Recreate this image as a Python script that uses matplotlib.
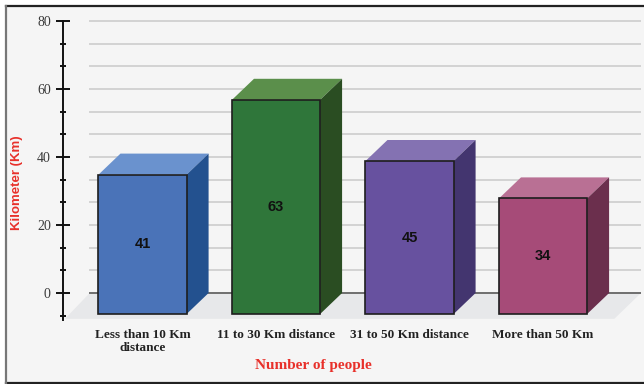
import matplotlib
matplotlib.use("Agg")
import matplotlib.pyplot as plt
from matplotlib.patches import Polygon, Rectangle
from matplotlib.lines import Line2D
from matplotlib.ticker import MultipleLocator

# data
categories = ["Less than 10 Km\ndistance", "11 to 30 Km distance", "31 to 50 Km distance", "More than 50 Km"]
values = [41, 63, 45, 34]
front_colors = ["#4A73B8", "#2F763A", "#67519F", "#A64B78"]
top_colors = ["#6A92CE", "#5B8F4B", "#8472B2", "#B97094"]
side_colors = ["#23518F", "#2A4D22", "#43356F", "#6B2F4D"]

# 3d look (data units)
BAR_W = 0.66
DX, DY = 0.165, 6.2
FLOOR_DX, FLOOR_DY = 0.2, 7.6
XMIN, XMAX = -0.5955, 3.734
YMIN, YMAX = -8, 82

fig = plt.figure(figsize=(6.44, 3.84), dpi=100)
fig.patch.set_facecolor("white")

# panel background + frame
fig.patches.append(Rectangle((6 / 644, 1 / 384), 1, 377 / 384, transform=fig.transFigure,
                             facecolor="#F5F5F5", edgecolor="none", zorder=-10))
fig.lines.append(Line2D([6 / 644, 1], [378 / 384, 378 / 384], transform=fig.transFigure,
                        color="#222222", lw=1.6, zorder=-5))
fig.lines.append(Line2D([6 / 644, 1], [1.2 / 384, 1.2 / 384], transform=fig.transFigure,
                        color="#222222", lw=1.6, zorder=-5))
fig.lines.append(Line2D([6 / 644, 6 / 644], [1 / 384, 378 / 384], transform=fig.transFigure,
                        color="#777777", lw=1.6, zorder=-5))

ax = fig.add_axes([63 / 644, 0.16615, 578 / 644, 0.796875])
ax.set_facecolor("none")
ax.set_xlim(XMIN, XMAX)
ax.set_ylim(YMIN, YMAX)

# floor
gx0 = XMIN + FLOOR_DX
ax.add_patch(Polygon([(XMIN + 0.015, -FLOOR_DY), (XMAX - FLOOR_DX, -FLOOR_DY), (XMAX, 0), (gx0, 0)],
                     closed=True, facecolor="#E7E8EA", edgecolor="none", zorder=1))

# gridlines on back wall
for gy in [i * 20 / 3 for i in range(1, 13)]:
    ax.plot([gx0, XMAX], [gy, gy], color="#D3D3D3", lw=1.4, zorder=1.5)
ax.plot([gx0, XMAX], [0, 0], color="#6E6E6E", lw=1.4, zorder=1.6)

# bars
for i, (v, fc, tc, sc) in enumerate(zip(values, front_colors, top_colors, side_colors)):
    x0, x1 = i - BAR_W / 2, i + BAR_W / 2
    ax.add_patch(Polygon([(x0, v - DY), (x1, v - DY), (x1 + DX, v), (x0 + DX, v)],
                         closed=True, facecolor=tc, edgecolor="none", zorder=3))
    ax.add_patch(Polygon([(x1, -DY), (x1 + DX, 0), (x1 + DX, v), (x1, v - DY)],
                         closed=True, facecolor=sc, edgecolor="none", zorder=3))
    ax.add_patch(Rectangle((x0, -DY), BAR_W, v, facecolor=fc, edgecolor="#1E1E1E", lw=1.2, zorder=4))
    ax.text(i, v / 2 - DY, str(v), ha="center", va="center", fontsize=10.5, fontweight="bold",
            family="Liberation Sans", color="#111111", zorder=5)

# axes
for s in ["top", "right", "bottom"]:
    ax.spines[s].set_visible(False)
ax.spines["left"].set_bounds(-8, 80)
ax.spines["left"].set_color("#111111")
ax.spines["left"].set_linewidth(1.4)

ax.set_yticks([0, 20, 40, 60, 80])
ax.yaxis.set_minor_locator(MultipleLocator(20 / 3))
ax.tick_params(axis="y", which="major", direction="inout", length=9.5, width=1.4, color="#111111",
               labelsize=10, labelcolor="#3A3A3A", pad=4)
ax.tick_params(axis="y", which="minor", direction="inout", length=4.5, width=1.4, color="#111111")
for lab in ax.get_yticklabels():
    lab.set_family("Liberation Serif")

ax.set_xticks(range(len(categories)))
ax.set_xticklabels(categories, family="Liberation Serif", fontweight="bold", fontsize=9.5, color="#222222")
ax.tick_params(axis="x", length=0, pad=6)

fig.text(313 / 644, (384 - 365) / 384, "Number of people", ha="center", va="center",
         family="Liberation Serif", fontweight="bold", fontsize=11, color="#E8302A")
fig.text(17 / 644, (384 - 183) / 384, "Kilometer (Km)", ha="center", va="center", rotation=90,
         family="Liberation Sans", fontweight="bold", fontsize=9.5, color="#E8302A")

fig.savefig("out.png", dpi=100)
